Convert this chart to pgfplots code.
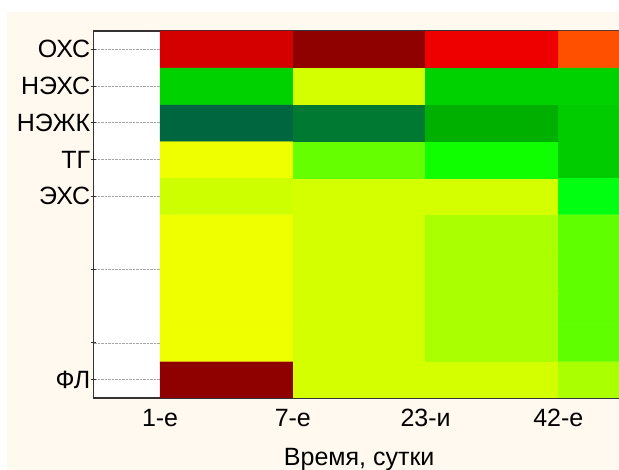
\documentclass[border=0pt]{standalone}
\usepackage{pgfplots}
\pgfplotsset{compat=1.18}
\usepackage{pgfplotstable}
\usepackage{fontspec}
\setmainfont{Liberation Sans}
\definecolor{cream}{RGB}{255,249,239}
\pgfplotstableread{
x y c
0.5 1 rgb255=143,0,0
1.5 1 rgb255=212,255,0
2.5 1 rgb255=212,255,0
3.5 1 rgb255=170,255,0
0.5 2 rgb255=240,255,0
1.5 2 rgb255=212,255,0
2.5 2 rgb255=170,255,0
3.5 2 rgb255=95,255,0
0.5 3 rgb255=240,255,0
1.5 3 rgb255=212,255,0
2.5 3 rgb255=170,255,0
3.5 3 rgb255=95,255,0
0.5 4 rgb255=240,255,0
1.5 4 rgb255=212,255,0
2.5 4 rgb255=170,255,0
3.5 4 rgb255=95,255,0
0.5 5 rgb255=240,255,0
1.5 5 rgb255=212,255,0
2.5 5 rgb255=170,255,0
3.5 5 rgb255=95,255,0
0.5 6 rgb255=206,255,0
1.5 6 rgb255=212,255,0
2.5 6 rgb255=212,255,0
3.5 6 rgb255=0,255,16
0.5 7 rgb255=240,255,0
1.5 7 rgb255=102,255,0
2.5 7 rgb255=16,255,0
3.5 7 rgb255=0,204,0
0.5 8 rgb255=0,102,64
1.5 8 rgb255=0,122,51
2.5 8 rgb255=0,176,0
3.5 8 rgb255=0,204,0
0.5 9 rgb255=0,210,0
1.5 9 rgb255=212,255,0
2.5 9 rgb255=0,210,0
3.5 9 rgb255=0,210,0
0.5 10 rgb255=212,0,0
1.5 10 rgb255=143,0,0
2.5 10 rgb255=238,0,0
3.5 10 rgb255=255,80,0
}\heat
\begin{document}
\begin{tikzpicture}
\fill[cream] (-86.7pt,-72pt) rectangle (540pt,386pt);
\begin{axis}[
  at={(0,0)}, anchor=south west,
  scale only axis, width=531pt, height=367pt,
  xmin=-0.5, xmax=3.5, ymin=0.5, ymax=10.5,
  axis background/.style={fill=white},
  axis line style={black!80, line width=1.2pt},
  xtick={0,1,2,3},
  xticklabels={1-е,7-е,23-и,42-е},
  minor xtick={0.5,1.5,2.5,3.5},
  xtick pos=both,
  ytick={10,9,8,7,6,4,2,1},
  yticklabels={ОХС,НЭХС,НЭЖК,ТГ,ЭХС,{},{},ФЛ},
  ytick pos=left,
  tick align=inside,
  major tick length=5pt, minor tick length=5pt,
  tick style={black!80, line width=1pt},
  y tick style={xshift=-3pt},
  ymajorgrids,
  major grid style={densely dotted, gray!70, line width=0.8pt},
  ticklabel style={font=\fontsize{25}{29}\selectfont},
  xticklabel style={yshift=-8pt},
  label style={font=\fontsize{25}{29}\selectfont},
  xlabel={Время, сутки},
  xlabel style={yshift=-14pt},
]
\addplot[matrix plot*, mesh/cols=4, mesh/color input=explicit, point meta=explicit symbolic]
  table[x=x, y=y, meta=c] {\heat};
\end{axis}
\pgfresetboundingbox
\path[use as bounding box] (-93.7pt,-72pt) rectangle (525.3pt,398pt);
\end{tikzpicture}
\end{document}
